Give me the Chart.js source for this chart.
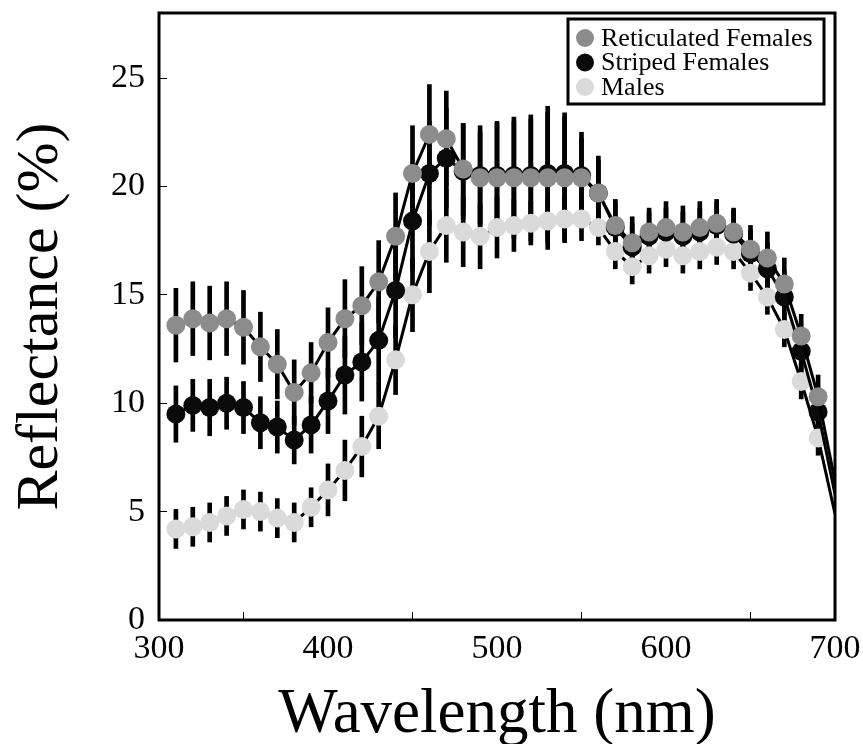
<!DOCTYPE html>
<html>
<head>
<meta charset="utf-8">
<title>Reflectance spectra</title>
<script src="https://cdn.jsdelivr.net/npm/chart.js@4.4.1/dist/chart.umd.min.js"></script>
<style>
  html, body { margin: 0; padding: 0; background: #fff; }
  #wrap { width: 863px; height: 744px; }
</style>
</head>
<body>
<div id="wrap"><canvas id="spectra" width="863" height="744"></canvas></div>
<script>
// wavelength (nm); the last one (700) only carries the line to the edge, no marker
const wavelengths = [310, 320, 330, 340, 350, 360, 370, 380, 390, 400,
                     410, 420, 430, 440, 450, 460, 470, 480, 490, 500,
                     510, 520, 530, 540, 550, 560, 570, 580, 590, 600,
                     610, 620, 630, 640, 650, 660, 670, 680, 690, 700];

const reticulated = [13.6, 13.9, 13.7, 13.9, 13.5, 12.6, 11.8, 10.5, 11.4, 12.8,
                     13.9, 14.5, 15.6, 17.7, 20.6, 22.4, 22.2, 20.8, 20.4, 20.4,
                     20.4, 20.4, 20.4, 20.4, 20.4, 19.7, 18.2, 17.4, 17.9, 18.1,
                     17.9, 18.1, 18.3, 17.9, 17.1, 16.7, 15.5, 13.1, 10.3, 6.4];
const reticulatedErr = [1.7, 1.7, 1.7, 1.7, 1.7, 1.6, 1.6, 1.5, 1.4, 1.6,
                        1.8, 1.8, 1.9, 2.0, 2.2, 2.3, 2.2, 2.1, 2.1, 2.6,
                        2.8, 2.9, 3.3, 3.0, 1.8, 1.7, 1.2, 1.2, 1.1, 1.2,
                        1.2, 1.2, 1.1, 1.1, 1.1, 1.2, 1.2, 1.0, 1.0, null];

const striped = [9.5, 9.9, 9.8, 10.0, 9.8, 9.1, 8.9, 8.3, 9.0, 10.1,
                 11.3, 11.9, 12.9, 15.2, 18.4, 20.6, 21.3, 20.7, 20.5, 20.5,
                 20.5, 20.5, 20.6, 20.6, 20.5, 19.7, 18.1, 17.2, 17.7, 17.9,
                 17.7, 17.9, 18.2, 17.8, 16.9, 16.2, 14.9, 12.4, 9.6, 5.8];
const stripedErr = [1.3, 1.2, 1.3, 1.2, 1.2, 1.2, 1.2, 1.1, 1.3, 1.5,
                    1.8, 1.8, 2.0, 2.2, 2.3, 2.4, 2.3, 2.2, 2.3, 2.4,
                    2.5, 2.6, 2.8, 2.6, 2.0, 1.5, 1.2, 1.1, 1.1, 1.1,
                    1.1, 1.1, 1.1, 1.1, 1.1, 1.2, 1.2, 1.1, 1.0, null];

const males = [4.2, 4.3, 4.5, 4.8, 5.1, 5.0, 4.7, 4.5, 5.2, 6.0,
               6.9, 8.0, 9.4, 12.0, 15.0, 17.0, 18.2, 17.9, 17.7, 18.1,
               18.2, 18.3, 18.4, 18.5, 18.5, 18.1, 17.0, 16.3, 16.8, 17.1,
               16.8, 17.0, 17.2, 17.0, 16.0, 14.9, 13.4, 11.0, 8.4, 4.9];
const malesErr = [0.9, 0.9, 0.9, 0.9, 0.9, 0.9, 0.9, 0.9, 0.9, 1.2,
                  1.4, 1.4, 1.5, 1.6, 1.7, 1.9, 1.7, 1.6, 1.5, 1.4,
                  1.2, 1.0, 1.0, 1.0, 1.0, 0.8, 0.8, 0.8, 0.8, 0.8,
                  0.8, 0.8, 0.8, 0.8, 0.8, 0.8, 0.8, 0.8, 0.8, null];

const xTicks = [300, 400, 500, 600, 700];
const yTicks = [0, 5, 10, 15, 20, 25];

const serif = '"Liberation Serif", "Times New Roman", serif';

function meanPoints(values) {
    return wavelengths.map((w, i) => ({ x: w, y: values[i] }));
}

function errorPoints(values, errs) {
    const pts = [];
    wavelengths.forEach((w, i) => {
        if (errs[i] == null) return;
        pts.push({ x: w, y: [values[i] - errs[i], values[i] + errs[i]] });
    });
    return pts;
}

function seriesDataset(label, values, fill, order) {
    return {
        type: 'line',
        label: label,
        data: meanPoints(values),
        borderColor: '#000',
        borderWidth: 3,
        tension: 0,
        pointRadius: ctx => (wavelengths[ctx.dataIndex] === 700 ? 0 : 9.5),
        pointBackgroundColor: fill,
        pointBorderColor: fill,
        pointBorderWidth: 0,
        order: order
    };
}

function errorDataset(label, values, errs) {
    return {
        type: 'bar',
        label: label,
        data: errorPoints(values, errs),
        backgroundColor: '#000',
        borderWidth: 0,
        barThickness: 4,
        grouped: false,
        order: 10,
        isError: true
    };
}

// thick black frame around the plotting area
const framePlugin = {
    id: 'frame',
    afterDatasetsDraw(chart) {
        const { ctx, chartArea: a } = chart;
        ctx.save();
        ctx.strokeStyle = '#000';
        ctx.lineWidth = 3;
        ctx.strokeRect(a.left, a.top, a.right - a.left, a.bottom - a.top);
        ctx.restore();
    }
};

// boxed legend in the upper right corner, built from the line datasets
const boxLegend = {
    id: 'boxLegend',
    afterDraw(chart) {
        const { ctx, chartArea: a } = chart;
        const items = chart.data.datasets.filter(d => !d.isError);
        const w = 256, rowH = 24.5, h = 85;
        const left = a.right - 11 - w, top = a.top + 6;
        ctx.save();
        ctx.fillStyle = '#fff';
        ctx.fillRect(left, top, w, h);
        ctx.strokeStyle = '#000';
        ctx.lineWidth = 3;
        ctx.strokeRect(left, top, w, h);
        ctx.font = '26px ' + serif;
        ctx.textBaseline = 'middle';
        ctx.textAlign = 'left';
        items.forEach((d, i) => {
            const cy = top + 19 + i * rowH;
            ctx.beginPath();
            ctx.arc(left + 17, cy, 9, 0, Math.PI * 2);
            ctx.fillStyle = d.pointBackgroundColor;
            ctx.fill();
            ctx.fillStyle = '#000';
            ctx.fillText(d.label, left + 33, cy + 1);
        });
        ctx.restore();
    }
};

const chart = new Chart(document.getElementById('spectra'), {
    type: 'line',
    data: {
        datasets: [
            seriesDataset('Reticulated Females', reticulated, '#8c8c8c', 1),
            seriesDataset('Striped Females', striped, '#0a0a0a', 2),
            seriesDataset('Males', males, '#dadada', 3),
            errorDataset('Reticulated SE', reticulated, reticulatedErr),
            errorDataset('Striped SE', striped, stripedErr),
            errorDataset('Males SE', males, malesErr)
        ]
    },
    options: {
        responsive: false,
        animation: false,
        layout: { padding: { left: 0, right: 28, top: 13, bottom: 0 } },
        plugins: {
            legend: { display: false },
            tooltip: { enabled: false }
        },
        scales: {
            x: {
                type: 'linear',
                min: 300,
                max: 700,
                offset: false,
                afterBuildTicks: scale => { scale.ticks = xTicks.map(v => ({ value: v })); },
                afterFit: scale => {
                    scale.height = 124;
                    scale.paddingLeft = 0;
                    scale.paddingRight = 0;
                },
                grid: { drawOnChartArea: false, drawTicks: true, tickLength: -8, color: '#000', lineWidth: 1 },
                border: { display: false },
                ticks: {
                    color: '#000',
                    padding: 17,
                    maxRotation: 0,
                    font: { family: serif, size: 34 }
                },
                title: {
                    display: true,
                    text: 'Wavelength (nm)',
                    color: '#000',
                    font: { family: serif, size: 63, lineHeight: 0.9 },
                    padding: { top: 0, bottom: 0 }
                }
            },
            y: {
                min: 0,
                max: 28,
                afterBuildTicks: scale => { scale.ticks = yTicks.map(v => ({ value: v })); },
                afterFit: scale => {
                    scale.width = 159;
                    scale.paddingTop = 0;
                    scale.paddingBottom = 0;
                },
                grid: { drawOnChartArea: false, drawTicks: true, tickLength: -8, color: '#000', lineWidth: 1 },
                border: { display: false },
                ticks: {
                    color: '#000',
                    padding: 22,
                    font: { family: serif, size: 34 }
                },
                title: {
                    display: true,
                    text: 'Reflectance (%)',
                    color: '#000',
                    font: { family: serif, size: 60, lineHeight: 1 },
                    padding: { top: 11, bottom: 0 }
                }
            }
        }
    },
    plugins: [framePlugin, boxLegend]
});
</script>
</body>
</html>
